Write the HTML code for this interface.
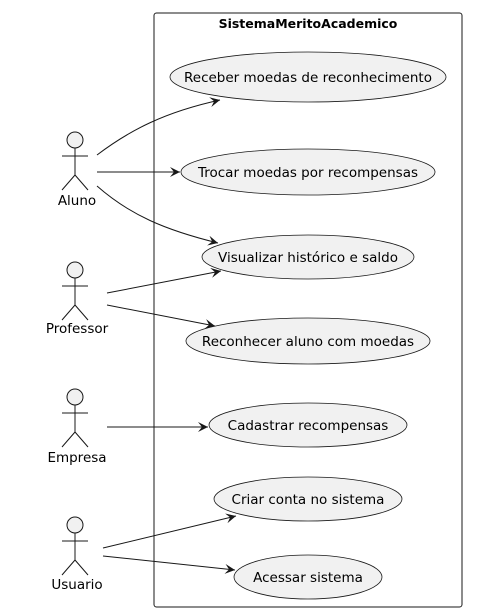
<!DOCTYPE html>
<html><head><meta charset="utf-8"><style>html,body{margin:0;padding:0;background:#fff}</style></head>
<body>
<svg width="488" height="610" viewBox="0 0 488 610" xmlns="http://www.w3.org/2000/svg" font-family="DejaVu Sans, sans-serif">
<defs>
<marker id="a" viewBox="0 0 10 10" refX="10" refY="5" markerWidth="10" markerHeight="10" markerUnits="userSpaceOnUse" orient="auto">
<path d="M0,0 L10,5 L0,10 L4,5 Z" fill="#181818"/>
</marker>
</defs>
<rect x="154" y="13" width="308" height="594" rx="2.5" fill="none" stroke="#181818" stroke-width="1"/>
<text x="308" y="28" text-anchor="middle" font-size="12.5" font-weight="bold" fill="#000">SistemaMeritoAcademico</text>
<g fill="#F1F1F1" stroke="#181818" stroke-width="0.8">
<ellipse cx="308" cy="77" rx="138" ry="25"/>
<ellipse cx="308" cy="172" rx="127" ry="23"/>
<ellipse cx="308" cy="257" rx="106" ry="22"/>
<ellipse cx="308" cy="341" rx="122" ry="23"/>
<ellipse cx="308" cy="425" rx="99" ry="22"/>
<ellipse cx="308" cy="499" rx="94" ry="22"/>
<ellipse cx="308" cy="577" rx="74" ry="22"/>
</g>
<g font-size="13.5" text-anchor="middle" fill="#000">
<text x="308" y="82">Receber moedas de reconhecimento</text>
<text x="308" y="177">Trocar moedas por recompensas</text>
<text x="308" y="262">Visualizar histórico e saldo</text>
<text x="308" y="346">Reconhecer aluno com moedas</text>
<text x="308" y="430">Cadastrar recompensas</text>
<text x="308" y="504">Criar conta no sistema</text>
<text x="308" y="582">Acessar sistema</text>
</g>
<g fill="#F1F1F1" stroke="#181818" stroke-width="1">
<g transform="translate(75,140)"><circle cx="0" cy="0" r="8"/><path d="M0,8 V35 M-13,16 H13 M0,35 L-13,50 M0,35 L13,50" fill="none"/></g>
<g transform="translate(75,270)"><circle cx="0" cy="0" r="8"/><path d="M0,8 V35 M-13,16 H13 M0,35 L-13,50 M0,35 L13,50" fill="none"/></g>
<g transform="translate(75,397)"><circle cx="0" cy="0" r="8"/><path d="M0,8 V35 M-13,16 H13 M0,35 L-13,50 M0,35 L13,50" fill="none"/></g>
<g transform="translate(75,525)"><circle cx="0" cy="0" r="8"/><path d="M0,8 V35 M-13,16 H13 M0,35 L-13,50 M0,35 L13,50" fill="none"/></g>
</g>
<g font-size="13.5" text-anchor="middle" fill="#000">
<text x="77" y="205">Aluno</text>
<text x="77" y="333">Professor</text>
<text x="77" y="462">Empresa</text>
<text x="77" y="589">Usuario</text>
</g>
<g fill="none" stroke="#181818" stroke-width="1" marker-end="url(#a)">
<path d="M97,155 C130,130 165,112 220,100"/>
<path d="M97,172 L180,172"/>
<path d="M97,186 C130,215 165,230 218,243"/>
<path d="M107,293 L221,271"/>
<path d="M107,305 L215,326"/>
<path d="M107,427 L208,427"/>
<path d="M103,548 L236,516"/>
<path d="M103,556 L235,570"/>
</g>
</svg>
</body></html>
